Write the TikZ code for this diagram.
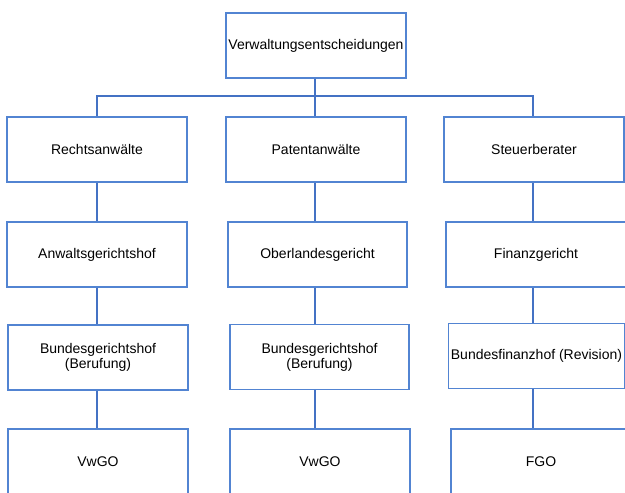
\documentclass[tikz,border=0pt]{standalone}
\usepackage{fontspec}
\setmainfont{Liberation Sans}
\definecolor{boxblue}{HTML}{5284D2}
\definecolor{lineblue}{HTML}{4472C4}
\tikzset{
  box/.style={draw=boxblue, line width=1.4pt, rectangle, inner sep=0pt,
    minimum width=180pt, minimum height=65pt, align=center,
    font=\fontsize{14}{15}\selectfont},
  link/.style={draw=lineblue, line width=1.8pt}
}
\begin{document}
\begin{tikzpicture}[x=1pt,y=-1pt]
  \useasboundingbox (0,0) rectangle (625,493);
  \clip (0,0) rectangle (625,493);
  % column axes and the distribution bus
  \coordinate (colL) at (97,0);
  \coordinate (colM) at (315,0);
  \coordinate (colR) at (533,0);
  \coordinate (bus) at (315,96);

  \node[box] (top) at (316,45.5) {Verwaltungsentscheidungen};

  \node[box] (r1L) at (97,149.5) {Rechtsanwälte};
  \node[box] (r1M) at (316,149.5) {Patentanwälte};
  \node[box] (r1R) at (534,149.5) {Steuerberater};

  \node[box] (r2L) at (97,254.5) {Anwaltsgerichtshof};
  \node[box, minimum width=179pt] (r2M) at (317.5,254.5) {Oberlandesgericht};
  \node[box] (r2R) at (536,254.5) {Finanzgericht};

  \node[box] (r3L) at (98,357.5) {Bundesgerichtshof\\(Berufung)};
  \node[box, minimum width=179pt] (r3M) at (319.5,357) {Bundesgerichtshof\\(Berufung)};
  \node[box, minimum width=176pt] (r3R) at (536.5,356) {Bundesfinanzhof (Revision)};

  \node[box] (r4L) at (98,461.5) {VwGO};
  \node[box] (r4M) at (320,461.5) {VwGO};
  \node[box] (r4R) at (541,461.5) {FGO};

  % connectors
  \draw[link] (top.south -| colM) -- (bus);
  \draw[link] (r1L.north -| colL) |- (bus) -| (r1R.north -| colR);
  \draw[link] (bus) -- (r1M.north -| colM);

  \draw[link] (r1L.south -| colL) -- (r2L.north -| colL);
  \draw[link] (r1M.south -| colM) -- (r2M.north -| colM);
  \draw[link] (r1R.south -| colR) -- (r2R.north -| colR);

  \draw[link] (r2L.south -| colL) -- (r3L.north -| colL);
  \draw[link] (r2M.south -| colM) -- (r3M.north -| colM);
  \draw[link] (r2R.south -| colR) -- (r3R.north -| colR);

  \draw[link] (r3L.south -| colL) -- (r4L.north -| colL);
  \draw[link] (r3M.south -| colM) -- (r4M.north -| colM);
  \draw[link] (r3R.south -| colR) -- (r4R.north -| colR);
\end{tikzpicture}
\end{document}
